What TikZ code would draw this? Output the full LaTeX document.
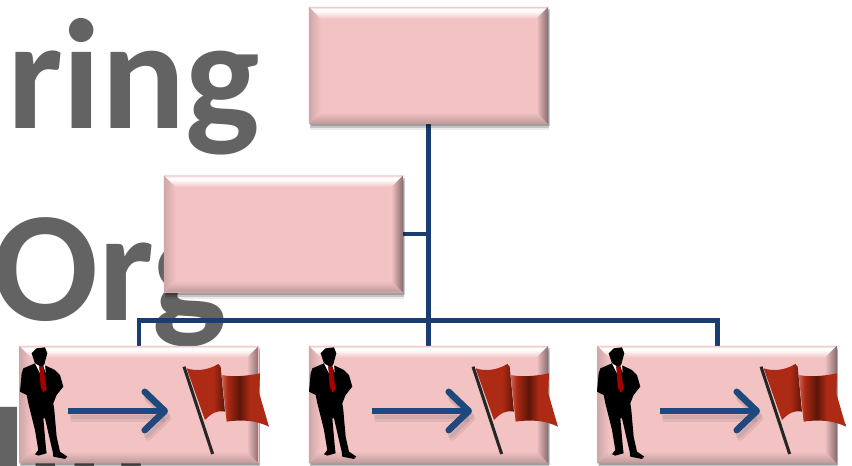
\documentclass[tikz,border=0pt]{standalone}
\usepackage{fontspec}
\setmainfont{Carlito}
\usepackage{xcolor}
\usetikzlibrary{positioning,arrows.meta,shadows,calc,backgrounds}
\definecolor{boxpink}{HTML}{F3C3C4}
\definecolor{linkblue}{HTML}{1B3C70}
\definecolor{arrowblue}{HTML}{1F497D}
\definecolor{titlegray}{HTML}{636363}
\definecolor{flagred}{HTML}{AD2A14}
\definecolor{flagdark}{HTML}{5E1509}
\pgfdeclarehorizontalshading{flagone}{100bp}{color(0bp)=(flagred); color(60bp)=(flagred); color(75bp)=(flagdark); color(100bp)=(flagdark)}
\pgfdeclarehorizontalshading{flagtwo}{100bp}{color(0bp)=(flagred!70!white); color(25bp)=(flagred!70!white); color(31bp)=(flagred); color(44bp)=(flagdark); color(55bp)=(flagred); color(100bp)=(flagred)}
\pgfdeclareverticalshading{bevelglow}{100bp}{color(0bp)=(boxpink); color(25bp)=(boxpink); color(58bp)=(white); color(66bp)=(white); color(75bp)=(boxpink); color(100bp)=(boxpink)}
\tikzset{
  pinkbox/.style={fill=boxpink,minimum width=7.17cm,minimum height=3.51cm,inner sep=0pt,
    drop shadow={shadow xshift=0.05cm,shadow yshift=-0.06cm,fill=black,opacity=0.2},
    drop shadow={shadow xshift=0.03cm,shadow yshift=-0.12cm,fill=black,opacity=0.16},
    drop shadow={shadow xshift=0.02cm,shadow yshift=-0.18cm,fill=black,opacity=0.08}},
  link/.style={draw=linkblue,line width=4.25pt},
  title/.style={font=\bfseries\fontsize{134}{134}\selectfont,text=titlegray,anchor=base west,inner sep=0pt},
  golink/.style={draw=arrowblue,line width=5.6pt,-{Straight Barb[length=0.6cm,width=1.15cm,round]}},
}
% bevel drawn over a named box
\newcommand{\bevel}[1]{
  \shade[shading=bevelglow] (#1.north west) -- (#1.north east) -- ($(#1.north east)+(-12,12)$) -- ($(#1.north west)+(12,12)$) -- cycle;
  \shade[top color=boxpink,bottom color=boxpink!78!black] (#1.south west) -- (#1.south east) -- ($(#1.south east)+(-12,-12)$) -- ($(#1.south west)+(12,-12)$) -- cycle;
  \shade[left color=boxpink,right color=boxpink!55!black] (#1.north east) -- (#1.south east) -- ($(#1.south east)+(-12,-12)$) -- ($(#1.north east)+(-12,12)$) -- cycle;
  \shade[left color=boxpink!85!black,right color=boxpink] (#1.north west) -- (#1.south west) -- ($(#1.south west)+(12,-12)$) -- ($(#1.north west)+(12,12)$) -- cycle;
}
% man in one third pixels, from the corner of the first box
\newcommand{\man}[1]{
  \begin{scope}[shift={(#1+10,340)},x=0.01cm,y=-0.01cm]
    \fill[black] (65,40) -- (80,25) -- (105,22) -- (112,40) -- (105,65) -- (103,75) -- (135,90) -- (150,105) -- (160,140) -- (140,165) -- (130,190) -- (133,210) -- (140,290) -- (150,335) -- (172,350) -- (165,357) -- (130,350) -- (128,335) -- (105,235) -- (100,235) -- (108,325) -- (110,340) -- (85,347) -- (75,343) -- (85,330) -- (75,270) -- (55,190) -- (50,165) -- (30,155) -- (35,100) -- (40,85) -- (75,70) -- (70,55) -- cycle;
    \fill[white] (75,70) -- (88,78) -- (90,100) -- cycle (100,78) -- (105,72) -- (107,98) -- cycle;
    \fill[red!65!black] (88,80) -- (100,78) -- (103,100) -- (110,150) -- (100,157) -- (92,140) -- cycle;
  \end{scope}
}
% flag, same units
\newcommand{\flag}[1]{
  \begin{scope}[shift={(#1+170,350)},x=0.01cm,y=-0.01cm]
    \draw[black!85,line width=2.6pt] (42,50) -- (128,312);
    \shade[shading=flagone] (50,55) .. controls (80,65) and (115,60) .. (145,42) -- (152,50) -- (165,185) .. controls (140,180) and (125,190) .. (105,210) -- cycle;
    \shade[shading=flagtwo] (155,75) .. controls (190,82) and (230,78) .. (270,70) -- (268,130) -- (297,230) .. controls (260,212) and (220,208) .. (170,215) -- cycle;
  \end{scope}
}
\begin{document}
\begin{tikzpicture}[x=0.03cm,y=-0.03cm]
  \useasboundingbox (0,0) rectangle (852,465);
  \clip (0,0) rectangle (852,465);

  % the boxes
  \node[pinkbox] (top) at (428.5,65.5) {};
  \node[pinkbox] (mid) at (283.5,234) {};
  \node[pinkbox] (left) at (139,404.5) {};
  \node[pinkbox] (centre) at (428.5,404.5) {};
  \node[pinkbox] (right) at (717,404.5) {};

  % big title, then connectors, behind the boxes
  \begin{scope}[on background layer]
    \node[title] (word1) at (7,128) {ring};
    \node[title] (word2) at (-8,320) {Org};
    \node[title] (word3) at (-12,517) {lin};

    \coordinate (bus) at (428,320);
    \draw[link] (top.south) -- (centre.north);
    \draw[link] (mid.east) -- (mid.east -| top.south);
    \draw[link] (left.north) |- (bus) -| (right.north);
  \end{scope}

  \bevel{top} \bevel{mid} \bevel{left} \bevel{centre} \bevel{right}

  \man{0} \man{289} \man{577}
  \flag{0} \flag{289} \flag{577}

  % arrows from man to flag
  \foreach \n/\xa in {a/68,b/372,c/660}{
    \coordinate (from\n) at (\xa,411);
    \coordinate (to\n) at (\xa+100,411);
    \draw[golink,draw=black,opacity=0.07] ([xshift=0.06cm,yshift=-0.14cm]from\n) -- ([xshift=0.06cm,yshift=-0.14cm]to\n);
    \draw[golink,draw=black,opacity=0.07] ([xshift=0.1cm,yshift=-0.22cm]from\n) -- ([xshift=0.1cm,yshift=-0.22cm]to\n);
    \draw[golink] (from\n) -- (to\n);
  }
\end{tikzpicture}
\end{document}
